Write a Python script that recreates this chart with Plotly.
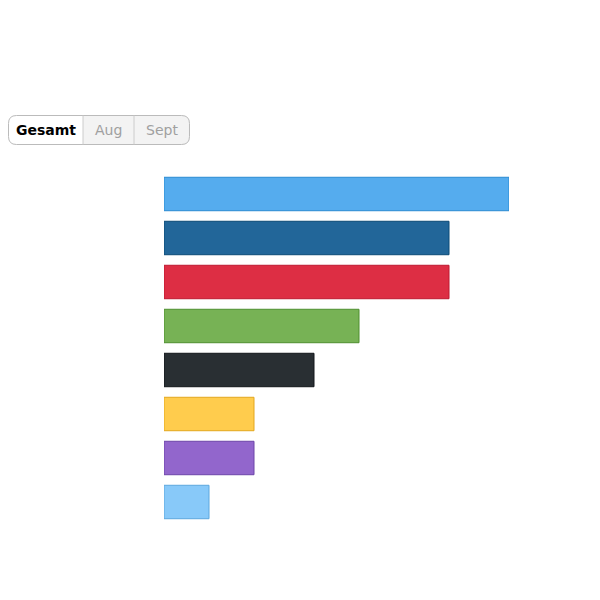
import plotly.graph_objects as go

# hearts, top to bottom
hearts = ["blau", "dunkelblau", "rot", "grün", "schwarz", "gelb", "lila", "hellblau"]
gesamt = [23, 19, 19, 13, 10, 6, 6, 3]
fill_colors = ["#55ACEE", "#226699", "#DD2E44", "#77B255", "#292F33", "#FFCC4D", "#9266CC", "#88C9F9"]
line_colors = ["#2A8BD2", "#0B4A76", "#BE1931", "#4E8F2F", "#12161A", "#E3A71E", "#6C45A8", "#5DA7DE"]
menu_labels = ["Gesamt", "Aug", "Sept"]

W, H = 600, 600
L, R, T, B = 156, 99, 164, 84
PW, PH = W - L - R, H - T - B
OFF = 8  # page body margin


def px(x):
    return (x - OFF - L) / PW


def py(y):
    return (H - B - (y - OFF)) / PH


def rounded(x0, y0, x1, y1, r, left=True, right=True):
    # path in paper coords, rounded on chosen sides
    rx, ry = r / PW, r / PH
    X0, X1, Y0, Y1 = px(x0), px(x1), py(y0), py(y1)  # Y0 top, Y1 bottom
    p = []
    if left:
        p.append("M %f,%f" % (X0 + rx, Y0))
    else:
        p.append("M %f,%f" % (X0, Y0))
    if right:
        p.append("L %f,%f Q %f,%f %f,%f" % (X1 - rx, Y0, X1, Y0, X1, Y0 - ry))
        p.append("L %f,%f Q %f,%f %f,%f" % (X1, Y1 + ry, X1, Y1, X1 - rx, Y1))
    else:
        p.append("L %f,%f L %f,%f" % (X1, Y0, X1, Y1))
    if left:
        p.append("L %f,%f Q %f,%f %f,%f" % (X0 + rx, Y1, X0, Y1, X0, Y1 + ry))
        p.append("L %f,%f Q %f,%f %f,%f" % (X0, Y0 - ry, X0, Y0, X0 + rx, Y0))
    else:
        p.append("L %f,%f" % (X0, Y1))
    p.append("Z")
    return " ".join(p)


fig = go.Figure()
fig.add_trace(go.Bar(
    y=hearts, x=gesamt, orientation="h",
    marker=dict(color=fill_colors, line=dict(color=line_colors, width=1)),
    hoverinfo="x",
))

# button group drawn by hand (screen pixels)
bx = [8.5, 83, 134, 189.5]
by0, by1 = 115.5, 144.5
seg_fill = ["white", "#F3F3F3", "#F3F3F3"]
shapes = []
for i in range(3):
    shapes.append(dict(type="path", xref="paper", yref="paper", layer="above",
                       path=rounded(bx[i], by0, bx[i + 1], by1, 8, left=(i == 0), right=(i == 2)),
                       fillcolor=seg_fill[i], line=dict(width=0)))
shapes.append(dict(type="path", xref="paper", yref="paper", layer="above",
                   path=rounded(bx[0], by0, bx[3], by1, 8),
                   fillcolor="rgba(0,0,0,0)", line=dict(color="#BBBBBB", width=1)))
for xd in bx[1:3]:
    shapes.append(dict(type="line", xref="paper", yref="paper", layer="above",
                       x0=px(xd), x1=px(xd), y0=py(by0), y1=py(by1),
                       line=dict(color="#CCCCCC", width=1)))

annotations = []
for i, lab in enumerate(menu_labels):
    annotations.append(dict(
        text="<b>%s</b>" % lab if i == 0 else lab,
        x=px((bx[i] + bx[i + 1]) / 2), y=py((by0 + by1) / 2),
        xref="paper", yref="paper", showarrow=False,
        xanchor="center", yanchor="middle",
        font=dict(family="DejaVu Sans", size=14, color="#000" if i == 0 else "#A0A0A0"),
    ))

fig.update_layout(
    width=W, height=H,
    margin=dict(l=L, r=R, t=T, b=B),
    paper_bgcolor="white", plot_bgcolor="white",
    font=dict(family="DejaVu Sans", size=14, color="#999"),
    showlegend=False,
    bargap=0.24,
    xaxis=dict(visible=False, range=[0, 23], fixedrange=True),
    yaxis=dict(autorange="reversed", showticklabels=False, showgrid=False,
               zeroline=False, ticks="", fixedrange=True),
    shapes=shapes,
    annotations=annotations,
)

fig.write_html("out.html")
